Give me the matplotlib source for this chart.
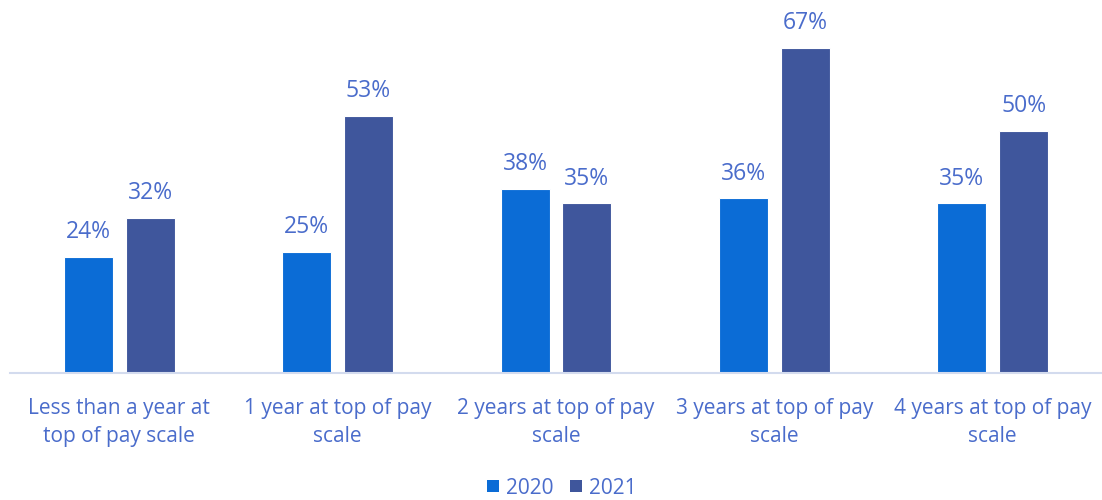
import matplotlib.pyplot as plt
import numpy as np
from matplotlib.patches import Patch

plt.rcParams["font.family"] = ["Open Sans", "DejaVu Sans"]

CATEGORIES = [
    "Less than a year at\ntop of pay scale",
    "1 year at top of pay\nscale",
    "2 years at top of pay\nscale",
    "3 years at top of pay\nscale",
    "4 years at top of pay\nscale",
]
SERIES = ["2020", "2021"]
VALUES_2020 = [24, 25, 38, 36, 35]
VALUES_2021 = [32, 53, 35, 67, 50]

C_2020 = "#0B6CD6"
C_2021 = "#3F569C"
C_TEXT = "#4A6CCB"
C_AXIS = "#D3DBEE"

fig = plt.figure(figsize=(11.02, 5.0), dpi=100)
ax = fig.add_axes([10 / 1102, 1 - 373 / 500, 1092 / 1102, 373 / 500])

x = np.arange(len(CATEGORIES))
width = 0.224
offset = 0.1416

for vals, col, dx in [(VALUES_2020, C_2020, -offset), (VALUES_2021, C_2021, offset)]:
    bars = ax.bar(x + dx, vals, width, color=col, edgecolor="white", linewidth=0.8)
    for b, v in zip(bars, vals):
        ax.text(b.get_x() + b.get_width() / 2, v + 2.6, f"{v}%",
                ha="center", va="bottom", fontsize=16.5, color=C_TEXT)

ax.set_xlim(-0.5, 4.5)
ax.set_ylim(0, 373 / 4.85)
ax.set_yticks([])
ax.set_xticks(x)
ax.set_xticklabels(CATEGORIES, fontsize=15, color=C_TEXT, linespacing=1.45)
ax.tick_params(axis="x", length=0, pad=18)
for side in ["top", "left", "right"]:
    ax.spines[side].set_visible(False)
ax.spines["bottom"].set_color(C_AXIS)
ax.spines["bottom"].set_linewidth(1.5)

handles = [Patch(facecolor=C_2020), Patch(facecolor=C_2021)]
leg = fig.legend(handles, SERIES, loc="center", bbox_to_anchor=(562 / 1102, 1 - 488 / 500),
                 ncol=2, frameon=False, fontsize=15, handlelength=0.55,
                 handleheight=0.55, handletextpad=0.35, columnspacing=0.8)
for t in leg.get_texts():
    t.set_color(C_TEXT)

fig.savefig("out.png", dpi=100)
